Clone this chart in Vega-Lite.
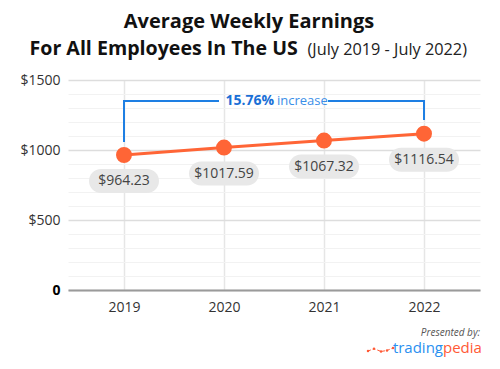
{
  "$schema": "https://vega.github.io/schema/vega-lite/v6.json",
  "width": 412,
  "height": 210,
  "autosize": "none",
  "padding": {"left": 68, "top": 80, "right": 20, "bottom": 79},
  "background": "white",
  "config": {"font": "Open Sans", "view": {"stroke": null}},
  "title": {
    "text": "Average Weekly Earnings",
    "frame": "group",
    "anchor": "middle",
    "dx": -25,
    "offset": 6,
    "fontSize": 20,
    "fontWeight": "bold",
    "color": "#111111"
  },
  "datasets": {
    "earnings": [
      {"year": 2019, "value": 964.23},
      {"year": 2020, "value": 1017.59},
      {"year": 2021, "value": 1067.32},
      {"year": 2022, "value": 1116.54}
    ],
    "bracket": [
      {"x": 2019, "y": 1064, "x2": 2019, "y2": 1350},
      {"x": 2019, "y": 1350, "x2": 2019.94, "y2": 1350},
      {"x": 2021.05, "y": 1350, "x2": 2022, "y2": 1350},
      {"x": 2022, "y": 1350, "x2": 2022, "y2": 1221}
    ],
    "icon": [
      {"x": 2021.44, "y": -436},
      {"x": 2021.5, "y": -419},
      {"x": 2021.57, "y": -439},
      {"x": 2021.63, "y": -432},
      {"x": 2021.69, "y": -414}
    ]
  },
  "encoding": {
    "x": {
      "field": "year",
      "type": "quantitative",
      "scale": {"domain": [2018.44, 2022.56], "nice": false, "zero": false},
      "axis": {
        "values": [2019, 2020, 2021, 2022],
        "format": "d",
        "ticks": false,
        "labelFontSize": 14,
        "labelColor": "#333333",
        "labelPadding": 10,
        "domainColor": "#9a9a9a",
        "domainWidth": 2,
        "gridColor": "#e6e6e6",
        "gridWidth": 1.5,
        "title": "(July 2019 - July 2022)",
        "titleX": 239,
        "titleY": -236,
        "titleAlign": "left",
        "titleBaseline": "alphabetic",
        "titleFontSize": 16.3,
        "titleFontWeight": "normal",
        "titleColor": "#222222"
      }
    },
    "y": {
      "field": "value",
      "type": "quantitative",
      "scale": {"domain": [0, 1500], "nice": false},
      "axis": {
        "values": [0, 100, 200, 300, 400, 500, 600, 700, 800, 900, 1000, 1100, 1200, 1300, 1400, 1500],
        "labelExpr": "datum.value === 0 ? '0' : (datum.value % 500 === 0 ? '$' + datum.value : '')",
        "labelFontWeight": {"condition": {"test": "datum.value === 0", "value": "bold"}, "value": "normal"},
        "labelColor": {"condition": {"test": "datum.value === 0", "value": "#000000"}, "value": "#333333"},
        "labelFontSize": 14,
        "labelPadding": 8,
        "ticks": false,
        "domain": false,
        "gridColor": {"condition": {"test": "datum.value % 500 === 0", "value": "#dddddd"}, "value": "#f2f2f2"},
        "gridWidth": {"condition": {"test": "datum.value % 500 === 0", "value": 1.5}, "value": 1},
        "title": "For All Employees In The US",
        "titleAngle": 0,
        "titleX": -39,
        "titleY": -26,
        "titleAlign": "left",
        "titleBaseline": "alphabetic",
        "titleFontSize": 19.6,
        "titleFontWeight": "bold",
        "titleColor": "#111111"
      }
    }
  },
  "layer": [
    {
      "data": {"name": "bracket"},
      "mark": {"type": "rule", "color": "#1e7fe3", "strokeWidth": 2, "strokeCap": "square"},
      "encoding": {
        "x": {"field": "x", "type": "quantitative"},
        "x2": {"field": "x2"},
        "y": {"field": "y", "type": "quantitative"},
        "y2": {"field": "y2"}
      }
    },
    {
      "data": {"values": [{"x": 2020.51, "y": 1350, "t": "15.76%"}]},
      "mark": {"type": "text", "align": "right", "baseline": "middle", "dx": -1, "fontSize": 14, "fontWeight": "bold", "color": "#1a6fd6"},
      "encoding": {
        "x": {"field": "x", "type": "quantitative"},
        "y": {"field": "y", "type": "quantitative"},
        "text": {"field": "t"}
      }
    },
    {
      "data": {"values": [{"x": 2020.51, "y": 1350, "t": "increase"}]},
      "mark": {"type": "text", "align": "left", "baseline": "middle", "dx": 2, "fontSize": 13, "color": "#3a8ee8"},
      "encoding": {
        "x": {"field": "x", "type": "quantitative"},
        "y": {"field": "y", "type": "quantitative"},
        "text": {"field": "t"}
      }
    },
    {
      "data": {"name": "earnings"},
      "mark": {"type": "line", "color": "#ff6536", "strokeWidth": 3}
    },
    {
      "data": {"name": "earnings"},
      "mark": {"type": "point", "filled": true, "size": 254, "opacity": 1, "color": "#ff6536"}
    },
    {
      "data": {"name": "earnings"},
      "mark": {"type": "rect", "width": 70, "height": 24, "cornerRadius": 12, "yOffset": 26, "color": "#e8e8e8"}
    },
    {
      "data": {"name": "earnings"},
      "mark": {"type": "text", "dy": 26, "baseline": "middle", "fontSize": 14, "color": "#444444"},
      "encoding": {"text": {"field": "value", "type": "quantitative", "format": "$.2f"}}
    },
    {
      "data": {"values": [{"x": 2022.56, "y": -325, "t": "Presented by:"}]},
      "mark": {"type": "text", "align": "right", "baseline": "alphabetic", "fontSize": 10, "fontStyle": "italic", "color": "#555555"},
      "encoding": {
        "x": {"field": "x", "type": "quantitative"},
        "y": {"field": "y", "type": "quantitative"},
        "text": {"field": "t"}
      }
    },
    {
      "data": {"values": [{"x": 2022.19, "y": -452, "t": "trading"}]},
      "mark": {"type": "text", "align": "right", "baseline": "alphabetic", "fontSize": 15, "color": "#2a90f0"},
      "encoding": {
        "x": {"field": "x", "type": "quantitative"},
        "y": {"field": "y", "type": "quantitative"},
        "text": {"field": "t"}
      }
    },
    {
      "data": {"values": [{"x": 2022.19, "y": -452, "t": "pedia"}]},
      "mark": {"type": "text", "align": "left", "baseline": "alphabetic", "fontSize": 15, "color": "#ff5a36"},
      "encoding": {
        "x": {"field": "x", "type": "quantitative"},
        "y": {"field": "y", "type": "quantitative"},
        "text": {"field": "t"}
      }
    },
    {
      "data": {"name": "icon"},
      "mark": {"type": "line", "color": "#ff5a36", "strokeWidth": 1, "strokeDash": [3, 2], "point": {"filled": true, "size": 6, "color": "#ff5a36"}},
      "encoding": {
        "x": {"field": "x", "type": "quantitative"},
        "y": {"field": "y", "type": "quantitative"}
      }
    }
  ]
}
